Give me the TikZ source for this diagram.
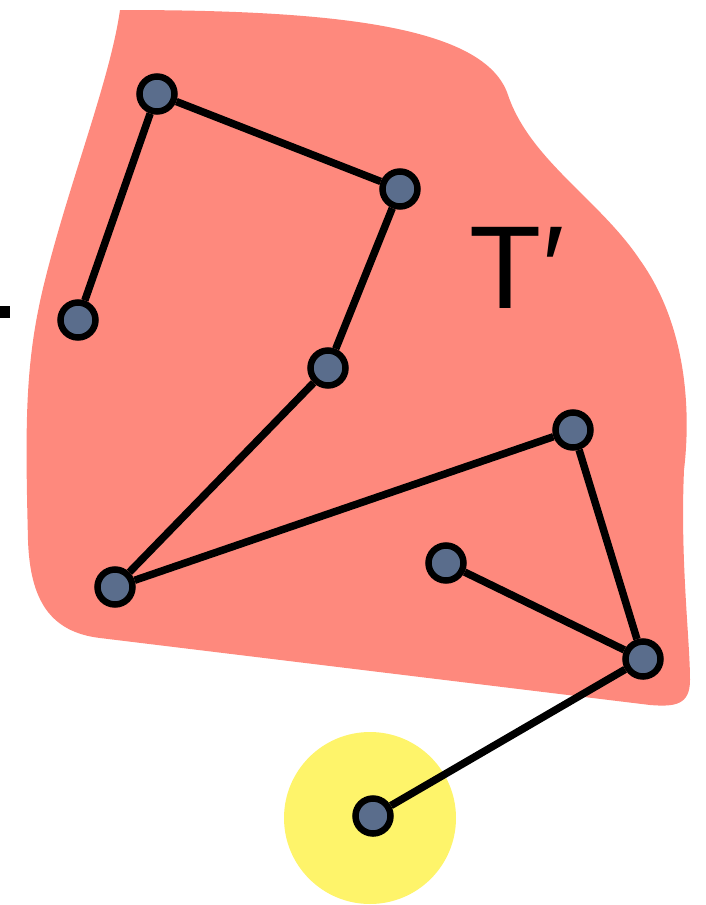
\documentclass[tikz,border=0pt]{standalone}
\usepackage{fontspec}
\setmainfont{Liberation Sans}
\definecolor{blob}{HTML}{FE897D}
\definecolor{sun}{HTML}{FEF46A}
\definecolor{vfill}{HTML}{5A6D8C}
\begin{document}
\begin{tikzpicture}[x=1pt,y=-1pt,
  vert/.style={circle,draw=black,fill=vfill,line width=6.5pt,minimum size=35pt,inner sep=0pt},
  edge/.style={line width=7.5pt,draw=black}]
\useasboundingbox (0,0) rectangle (706,905);
\fill[blob] (120,10) .. controls (330,10) and (485,25) .. (508,95)
  .. controls (530,160) and (600,200) .. (640,260)
  .. controls (690,330) and (690,420) .. (684,470)
  .. controls (680,560) and (690,640) .. (690,680)
  .. controls (690,705) and (675,707) .. (650,705)
  -- (100,638)
  .. controls (50,632) and (30,600) .. (28,540)
  .. controls (25,420) and (25,360) .. (45,280)
  .. controls (70,180) and (110,80) .. (120,10) -- cycle;
\fill[sun] (370,818) circle (86);
\fill[black] (0,306) rectangle (10,318);
\node[font=\fontsize{118}{118}\selectfont,inner sep=0pt] (lbl) at (517,268) {T′};
\node[vert] (n1) at (157,94) {};
\node[vert] (n2) at (400,189) {};
\node[vert] (n3) at (78,320) {};
\node[vert] (n4) at (328,368) {};
\node[vert] (n5) at (573,430) {};
\node[vert] (n6) at (115,587) {};
\node[vert] (n7) at (446,563) {};
\node[vert] (n8) at (643,659) {};
\node[vert] (n9) at (373,816) {};
\draw[edge] (n3) -- (n1);
\draw[edge] (n1) -- (n2);
\draw[edge] (n2) -- (n4);
\draw[edge] (n4) -- (n6);
\draw[edge] (n6) -- (n5);
\draw[edge] (n5) -- (n8);
\draw[edge] (n7) -- (n8);
\draw[edge] (n8) -- (n9);
\end{tikzpicture}
\end{document}
